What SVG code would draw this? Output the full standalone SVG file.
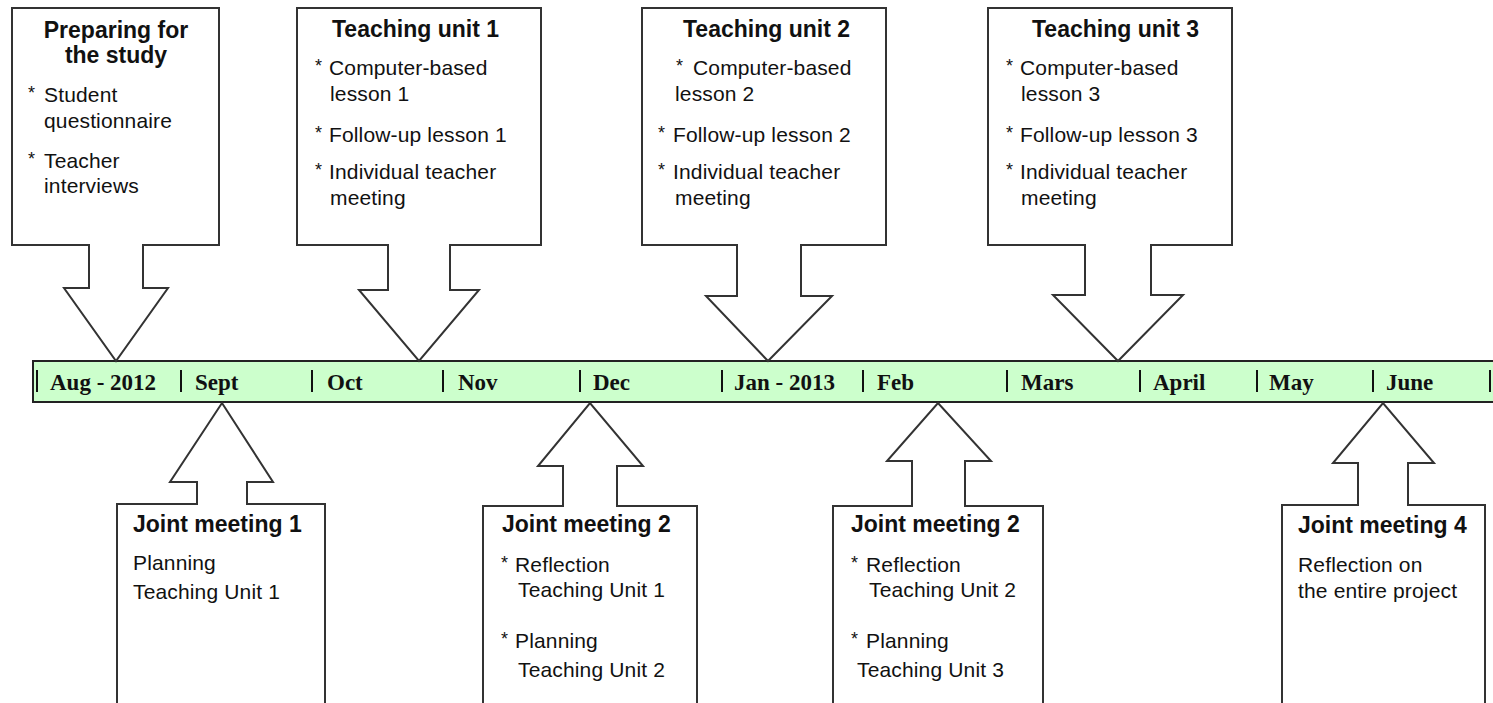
<svg xmlns="http://www.w3.org/2000/svg" width="1493" height="703" viewBox="0 0 1493 703">
  <style>
    .callout { fill: #ffffff; stroke: #333333; stroke-width: 2; stroke-linejoin: miter; }
    .bar { fill: #ccffcc; stroke: #222222; stroke-width: 2; }
    .tick { stroke: #111111; stroke-width: 2; }
    .month { font-family: "Liberation Serif", "Times New Roman", serif; font-weight: bold; font-size: 23px; fill: #111111; }
    .title { font-family: "Liberation Sans", Arial, sans-serif; font-weight: bold; font-size: 23px; fill: #111111; }
    .body { font-family: "Liberation Sans", Arial, sans-serif; font-size: 21px; letter-spacing: 0.15px; fill: #111111; }
    .star { font-family: "Liberation Sans", Arial, sans-serif; font-size: 18px; fill: #111111; }
  </style>

  <rect width="1493" height="703" fill="#ffffff"/>

  <!-- timeline bar with month ticks -->
  <g id="timeline">
    <rect class="bar" x="33" y="361" width="1475" height="41"/>
    <g class="ticks">
      <line class="tick" x1="37" y1="370" x2="37" y2="392"/>
      <line class="tick" x1="181" y1="370" x2="181" y2="392"/>
      <line class="tick" x1="312" y1="370" x2="312" y2="392"/>
      <line class="tick" x1="443" y1="370" x2="443" y2="392"/>
      <line class="tick" x1="580" y1="370" x2="580" y2="392"/>
      <line class="tick" x1="722" y1="370" x2="722" y2="392"/>
      <line class="tick" x1="863" y1="370" x2="863" y2="392"/>
      <line class="tick" x1="1007" y1="370" x2="1007" y2="392"/>
      <line class="tick" x1="1140" y1="370" x2="1140" y2="392"/>
      <line class="tick" x1="1257" y1="370" x2="1257" y2="392"/>
      <line class="tick" x1="1373" y1="370" x2="1373" y2="392"/>
      <line class="tick" x1="1490" y1="370" x2="1490" y2="392"/>
    </g>
    <text class="month" x="50" y="390">Aug - 2012</text>
    <text class="month" x="195" y="390">Sept</text>
    <text class="month" x="327" y="390">Oct</text>
    <text class="month" x="458" y="390">Nov</text>
    <text class="month" x="593" y="390">Dec</text>
    <text class="month" x="734" y="390">Jan - 2013</text>
    <text class="month" x="877" y="390">Feb</text>
    <text class="month" x="1021" y="390">Mars</text>
    <text class="month" x="1153" y="390">April</text>
    <text class="month" x="1269" y="390">May</text>
    <text class="month" x="1386" y="390">June</text>
  </g>

  <!-- callouts pointing down onto the timeline -->
  <g id="preparing">
    <path class="callout" d="M12,8 H219 V245 H143 V288 H168 L116,361 L64,288 H89 V245 H12 Z"/>
    <text class="title" x="116" y="38" text-anchor="middle">Preparing for</text>
    <text class="title" x="116" y="63" text-anchor="middle">the study</text>
    <text class="star" x="28" y="99">*</text>
    <text class="body" x="44" y="102">Student</text>
    <text class="body" x="44" y="128">questionnaire</text>
    <text class="star" x="28" y="165">*</text>
    <text class="body" x="44" y="168">Teacher</text>
    <text class="body" x="44" y="193">interviews</text>
  </g>

  <g id="teaching-unit-1">
    <path class="callout" d="M297,8 H541 V245 H450 V290 H479 L419,361 L359,290 H388 V245 H297 Z"/>
    <text class="title" x="332" y="37">Teaching unit 1</text>
    <text class="star" x="315" y="72">*</text>
    <text class="body" x="329" y="75">Computer-based</text>
    <text class="body" x="330" y="101">lesson 1</text>
    <text class="star" x="315" y="139">*</text>
    <text class="body" x="329" y="142">Follow-up lesson 1</text>
    <text class="star" x="315" y="176">*</text>
    <text class="body" x="329" y="179">Individual teacher</text>
    <text class="body" x="330" y="205">meeting</text>
  </g>

  <g id="teaching-unit-2">
    <path class="callout" d="M642,8 H886 V245 H801 V296 H832 L768,361 L706,296 H737 V245 H642 Z"/>
    <text class="title" x="683" y="37">Teaching unit 2</text>
    <text class="star" x="676" y="72">*</text>
    <text class="body" x="693" y="75">Computer-based</text>
    <text class="body" x="675" y="101">lesson 2</text>
    <text class="star" x="658" y="139">*</text>
    <text class="body" x="673" y="142">Follow-up lesson 2</text>
    <text class="star" x="658" y="176">*</text>
    <text class="body" x="673" y="179">Individual teacher</text>
    <text class="body" x="675" y="205">meeting</text>
  </g>

  <g id="teaching-unit-3">
    <path class="callout" d="M988,8 H1232 V245 H1151 V295 H1183 L1118,361 L1053,295 H1085 V245 H988 Z"/>
    <text class="title" x="1032" y="37">Teaching unit 3</text>
    <text class="star" x="1006" y="72">*</text>
    <text class="body" x="1020" y="75">Computer-based</text>
    <text class="body" x="1021" y="101">lesson 3</text>
    <text class="star" x="1006" y="139">*</text>
    <text class="body" x="1020" y="142">Follow-up lesson 3</text>
    <text class="star" x="1006" y="176">*</text>
    <text class="body" x="1020" y="179">Individual teacher</text>
    <text class="body" x="1021" y="205">meeting</text>
  </g>

  <!-- callouts pointing up at the timeline -->
  <g id="joint-meeting-1">
    <path class="callout" d="M117,720 V504 H197 V482 H170 L222,403 L273,482 H247 V504 H325 V720 Z"/>
    <text class="title" x="133" y="532">Joint meeting 1</text>
    <text class="body" x="133" y="570">Planning</text>
    <text class="body" x="133" y="599">Teaching Unit 1</text>
  </g>

  <g id="joint-meeting-2">
    <path class="callout" d="M483,720 V506 H563 V466 H538 L590,403 L643,466 H617 V506 H697 V720 Z"/>
    <text class="title" x="502" y="532">Joint meeting 2</text>
    <text class="star" x="501" y="569">*</text>
    <text class="body" x="515" y="572">Reflection</text>
    <text class="body" x="518" y="597">Teaching Unit 1</text>
    <text class="star" x="501" y="645">*</text>
    <text class="body" x="515" y="648">Planning</text>
    <text class="body" x="518" y="677">Teaching Unit 2</text>
  </g>

  <g id="joint-meeting-3">
    <path class="callout" d="M833,720 V506 H912 V461 H887 L938,403 L991,461 H965 V506 H1043 V720 Z"/>
    <text class="title" x="851" y="532">Joint meeting 2</text>
    <text class="star" x="851" y="569">*</text>
    <text class="body" x="866" y="572">Reflection</text>
    <text class="body" x="869" y="597">Teaching Unit 2</text>
    <text class="star" x="851" y="645">*</text>
    <text class="body" x="866" y="648">Planning</text>
    <text class="body" x="857" y="677">Teaching Unit 3</text>
  </g>

  <g id="joint-meeting-4">
    <path class="callout" d="M1282,720 V505 H1358 V463 H1333 L1383,403 L1434,463 H1408 V505 H1485 V720 Z"/>
    <text class="title" x="1298" y="533">Joint meeting 4</text>
    <text class="body" x="1298" y="572">Reflection on</text>
    <text class="body" x="1298" y="598">the entire project</text>
  </g>
</svg>
